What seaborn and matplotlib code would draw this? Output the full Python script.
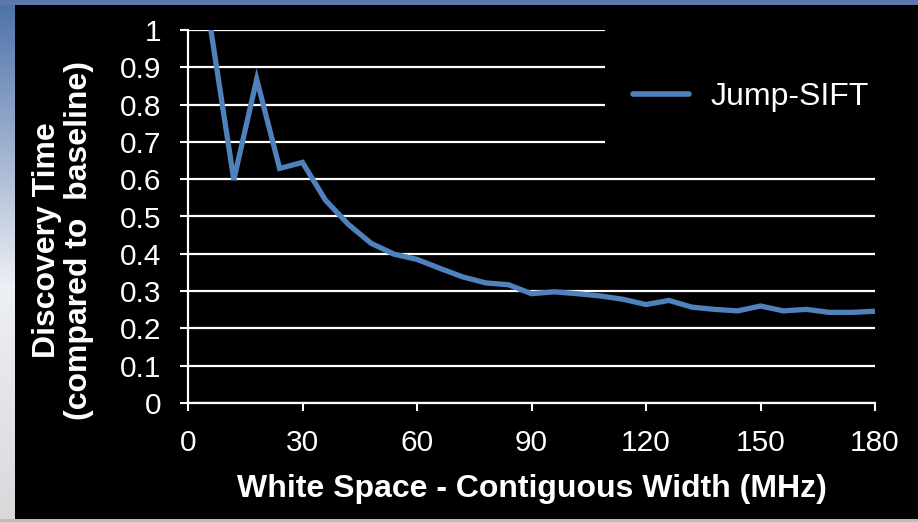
import numpy as np
import pandas as pd
import matplotlib
matplotlib.use("Agg")
import matplotlib.pyplot as plt
import seaborn as sns
from matplotlib.patches import Rectangle

# ---- data ----
widths_mhz = [6, 12, 18, 24, 30, 36, 42, 48, 54, 60, 66, 72, 78, 84, 90,
              96, 102, 108, 114, 120, 126, 132, 138, 144, 150, 156, 162, 168, 174, 180]
jump_sift = [1.0, 0.598, 0.868, 0.629, 0.645, 0.544, 0.479, 0.428, 0.399, 0.385,
             0.361, 0.338, 0.322, 0.317, 0.293, 0.298, 0.293, 0.287, 0.278, 0.264,
             0.275, 0.257, 0.251, 0.247, 0.260, 0.247, 0.251, 0.243, 0.243, 0.246]
series_name = "Jump-SIFT"
x_ticks = [0, 30, 60, 90, 120, 150, 180]
y_ticks = [0, 0.1, 0.2, 0.3, 0.4, 0.5, 0.6, 0.7, 0.8, 0.9, 1.0]
y_tick_labels = ["0", "0.1", "0.2", "0.3", "0.4", "0.5", "0.6", "0.7", "0.8", "0.9", "1"]
x_label = "White Space - Contiguous Width (MHz)"
y_label = "Discovery Time\n(compared to  baseline)"

df = pd.DataFrame({"width": widths_mhz, "time": jump_sift, "series": series_name})

sns.set_style("dark")
plt.rcParams["font.family"] = ["Liberation Sans", "DejaVu Sans"]

W, H = 918, 522
fig = plt.figure(figsize=(W / 100, H / 100), dpi=100)
fig.patch.set_facecolor("black")

# slide background strips (left gradient, top band, bottom line)
bg_left = fig.add_axes([0, 0, 15 / W, 1])
top_c = np.array([0.30, 0.44, 0.66])
mid_c = np.array([0.93, 0.94, 0.96])
bot_c = np.array([0.85, 0.85, 0.86])
t = np.linspace(0, 1, 200)[:, None]
grad = np.where(t < 0.55, top_c + (mid_c - top_c) * (t / 0.55),
                mid_c + (bot_c - mid_c) * ((t - 0.55) / 0.45))
bg_left.imshow(grad[:, None, :], aspect="auto", extent=[0, 1, 0, 1])
bg_left.axis("off")
bg_top = fig.add_axes([0, 1 - 5 / H, 1, 5 / H])
bg_top.set_facecolor("#5b78ab")
bg_top.set_xticks([]); bg_top.set_yticks([])
for s in bg_top.spines.values():
    s.set_visible(False)
bg_bot = fig.add_axes([0, 0, 1, 3 / H])
bg_bot.set_facecolor("#bdbdbd")
bg_bot.set_xticks([]); bg_bot.set_yticks([])
for s in bg_bot.spines.values():
    s.set_visible(False)

ax_l, ax_r, ax_t, ax_b = 188, 875, 30, 403
ax = fig.add_axes([ax_l / W, (H - ax_b) / H, (ax_r - ax_l) / W, (ax_b - ax_t) / H])
ax.set_facecolor("black")

sns.lineplot(data=df, x="width", y="time", hue="series", palette=["#4f81bd"],
             linewidth=3.8, ax=ax, zorder=4)
for ln in ax.get_lines():
    ln.set_solid_capstyle("butt")
    ln.set_solid_joinstyle("miter")

ax.set_xlim(0, 180)
ax.set_ylim(0, 1)
ax.set_xticks(x_ticks)
ax.set_xticklabels([str(v) for v in x_ticks])
ax.set_yticks(y_ticks)
ax.set_yticklabels(y_tick_labels)

ax.grid(False)
ax.yaxis.grid(True, color="white", linewidth=1.6)
ax.set_axisbelow(True)

for side in ["top", "right"]:
    ax.spines[side].set_visible(False)
for side in ["left", "bottom"]:
    ax.spines[side].set_visible(True)
    ax.spines[side].set_color("white")
    ax.spines[side].set_linewidth(1.6)

ax.tick_params(axis="both", colors="white", labelcolor="white", labelsize=21.5,
               direction="out", length=6, width=1.5, pad=13, left=True, bottom=True)

ax.set_xlabel(x_label, fontsize=23, fontweight="bold", color="white")
ax.xaxis.set_label_coords(0.5007, (ax_b - 489) / (ax_b - ax_t))
ax.xaxis.label.set_verticalalignment("center")

ax.set_ylabel(y_label, fontsize=23, fontweight="bold", color="white", linespacing=1.1)
ax.yaxis.label.set_multialignment("center")
ax.yaxis.label.set_verticalalignment("center")
ax.yaxis.label.set_horizontalalignment("center")
ax.yaxis.set_label_coords((63 - ax_l) / (ax_r - ax_l), (ax_b - 240) / (ax_b - ax_t))

# black legend area that hides the upper gridlines
ax.add_patch(Rectangle(((605 - ax_l) / (ax_r - ax_l), 0.66), 1 - (605 - ax_l) / (ax_r - ax_l) + 0.01,
                       0.36, transform=ax.transAxes, facecolor="black", edgecolor="none",
                       zorder=2, clip_on=False))

leg = ax.legend(loc="center left",
                bbox_to_anchor=((633 - ax_l) / (ax_r - ax_l), (ax_b - 97) / (ax_b - ax_t)),
                frameon=False, fontsize=23, handlelength=1.75, handletextpad=0.68,
                borderpad=0.0, borderaxespad=0.0)
for txt in leg.get_texts():
    txt.set_color("white")
for h in leg.get_lines():
    h.set_linewidth(4.0)
    h.set_solid_capstyle("round")

fig.savefig("out.png", dpi=100, facecolor=fig.get_facecolor())
